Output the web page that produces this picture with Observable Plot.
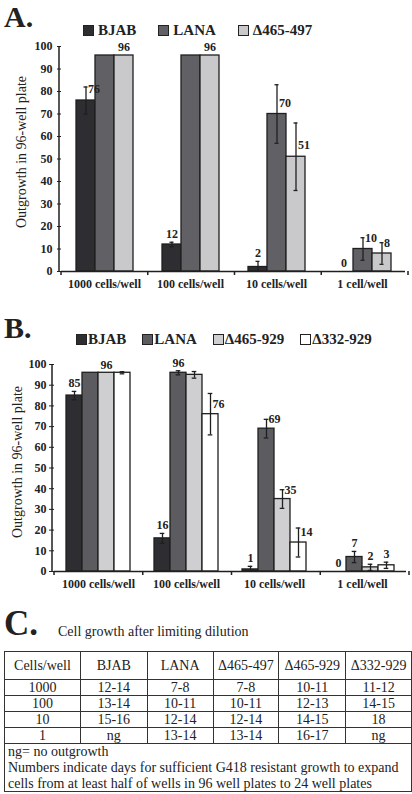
<!DOCTYPE html>
<html>
<head>
<meta charset="utf-8">
<script src="https://cdn.jsdelivr.net/npm/d3@7"></script>
<script src="https://cdn.jsdelivr.net/npm/@observablehq/plot@0.6"></script>
<style>
  body { margin: 0; background: #fff; }
  #page { position: relative; width: 412px; height: 794px; overflow: hidden;
          font-family: "Liberation Serif", Tinos, "Times New Roman", "DejaVu Serif", serif; color: #222; }
  .letter { position: absolute; left: 4px; font-weight: bold; line-height: 1.1; }
  .legend { position: absolute; display: flex; align-items: center; font-weight: bold;
            font-size: 15px; line-height: 1; white-space: nowrap; }
  .legend .item { display: flex; align-items: center; }
  .legend .sw { width: 9px; height: 9px; border: 1px solid #222; }
  .ytitle { position: absolute; transform: translate(-50%, -50%) rotate(-90deg);
            white-space: nowrap; font-size: 14px; line-height: 1; }
  .chart { position: absolute; left: 0; }
  .subtitle { position: absolute; left: 58px; font-size: 14px; line-height: 1; }
  table.growth { position: absolute; left: 4px; top: 651px; border-collapse: collapse;
                 font-size: 14px; table-layout: fixed; font-family: inherit; }
  table.growth td { border: 1px solid #333; text-align: center; padding: 0; line-height: 1; }
  table.growth tr.head td { height: 27px; }
  table.growth tr.body td { height: 15px; }
  .notes { position: absolute; left: 4px; top: 743px; width: 408px; height: 49px;
           border: 1px solid #333; border-top: none; font-size: 14px; line-height: 16px;
           padding: 1px 0 0 3px; box-sizing: border-box; }
</style>
</head>
<body>
<div id="page"></div>
<script>
// ---- shared categories ----
const groups = ["1000 cells/well", "100 cells/well", "10 cells/well", "1 cell/well"];

// ---- panel A: outgrowth (% of wells), mean and error ----
const seriesA = ["BJAB", "LANA", "Δ465-497"];
const colorsA = ["#2d2d32", "#616165", "#c9c9cb"];
const bjabA = [76, 12, 2, 0];
const bjabErrA = [6, 1, 2.5, 0];
const lanaA = [96, 96, 70, 10];
const lanaErrA = [0, 0, 13, 5];
const d465_497A = [96, 96, 51, 8];
const d465_497ErrA = [0, 0, 15, 4.8];
// which bars carry a value label
const bjabShownA = [true, true, true, true];
const lanaShownA = [false, false, true, true];
const d465_497ShownA = [true, true, true, true];

// ---- panel B ----
const seriesB = ["BJAB", "LANA", "Δ465-929", "Δ332-929"];
const colorsB = ["#2d2d32", "#5c5c60", "#cfcfd1", "#ffffff"];
const bjabB = [85, 16, 1, 0];
const bjabErrB = [2, 2.4, 1.5, 0];
const lanaB = [96, 96, 69, 7];
const lanaErrB = [0, 1, 4.5, 2.7];
const d465_929B = [96, 95, 35, 2];
const d465_929ErrB = [0, 1.6, 4.5, 1.5];
const d332_929B = [96, 76, 14, 3];
const d332_929ErrB = [0.5, 10, 7, 1.5];
const bjabShownB = [true, true, true, true];
const lanaShownB = [false, true, true, true];
const d465_929ShownB = [true, false, true, true];
const d332_929ShownB = [false, true, true, true];

// ---- panel C: days to expansion ----
const tableHeader = ["Cells/well", "BJAB", "LANA", "Δ465-497", "Δ465-929", "Δ332-929"];
const tableBody = [
  ["1000", "12-14", "7-8", "7-8", "10-11", "11-12"],
  ["100", "13-14", "10-11", "10-11", "12-13", "14-15"],
  ["10", "15-16", "12-14", "12-14", "14-15", "18"],
  ["1", "ng", "13-14", "13-14", "16-17", "ng"]
];
const tableNotes = [
  "ng= no outgrowth",
  "Numbers indicate days for sufficient G418 resistant growth to expand",
  "cells from at least half of wells in 96 well plates to 24 well plates"
];

const serif = "'Liberation Serif', Tinos, 'Times New Roman', 'DejaVu Serif', serif";
const page = document.getElementById("page");

function tidy(series, values, errs, shown) {
  const rows = [];
  series.forEach((s, i) => {
    groups.forEach((g, j) => {
      rows.push({group: g, series: s, value: values[i][j], err: errs[i][j], shown: shown[i][j]});
    });
  });
  return rows;
}

function addDiv(cls, text, css) {
  const el = document.createElement("div");
  el.className = cls;
  if (text != null) el.textContent = text;
  Object.assign(el.style, css);
  page.appendChild(el);
  return el;
}

function legend(series, colors, css, itemGap, swatchGap) {
  const box = addDiv("legend", null, css);
  box.style.gap = itemGap + "px";
  series.forEach((s, i) => {
    const item = document.createElement("div");
    item.className = "item";
    item.style.gap = swatchGap + "px";
    const sw = document.createElement("div");
    sw.className = "sw";
    sw.style.background = colors[i];
    const t = document.createElement("span");
    t.textContent = s;
    item.append(sw, t);
    box.appendChild(item);
  });
}

function barChart({rows, series, colors, top, height, marginLeft, marginRight, paddingOuter, tickSize, tickPadding, capWidth}) {
  const ink = "#1f1f1f";
  const chart = Plot.plot({
    width: 412,
    height,
    marginTop: 10,
    marginBottom: 25,
    marginLeft,
    marginRight,
    facet: {data: rows, x: "group"},
    fx: {domain: groups, padding: 0, label: null, tickSize: 0, tickPadding: 8, axis: "bottom"},
    x: {domain: series, axis: null, paddingInner: 0, paddingOuter},
    y: {domain: [0, 100], ticks: 10, tickSize, tickPadding, label: null},
    color: {domain: series, range: colors},
    style: {fontFamily: serif, fontSize: "12px",
            fontWeight: "bold", color: "#222", background: "transparent", overflow: "visible"},
    marks: [
      Plot.barY(rows, {x: "series", y: "value", fill: "series", stroke: ink, strokeWidth: 1.3}),
      Plot.ruleX(rows, {filter: d => d.err > 0, x: "series",
                        y1: d => Math.max(0, d.value - d.err), y2: d => d.value + d.err,
                        stroke: ink, strokeWidth: 1.3}),
      Plot.tickY(rows, {filter: d => d.err > 0, x: "series", y: d => d.value + d.err,
                        stroke: ink, strokeWidth: 1.3, inset: capWidth}),
      Plot.tickY(rows, {filter: d => d.err > 0 && d.value - d.err > 0, x: "series",
                        y: d => d.value - d.err, stroke: ink, strokeWidth: 1.3, inset: capWidth}),
      Plot.ruleY([0], {stroke: ink, strokeWidth: 1.5}),
      // short error bars: value sits centred above the whisker
      Plot.text(rows, {filter: d => d.shown && d.err < 4, x: "series", y: d => d.value + d.err,
                       text: d => String(d.value), dy: -8, fill: "#222", fontSize: 12, fontWeight: "bold"}),
      // long error bars: value sits beside the whisker
      Plot.text(rows, {filter: d => d.shown && d.err >= 4, x: "series", y: d => d.value + Math.min(d.err, 5),
                       text: d => String(d.value), dx: 2, textAnchor: "start", fill: "#222",
                       fontSize: 12, fontWeight: "bold"})
    ]
  });

  // axis line along y and group-boundary ticks on the baseline
  const svg = d3.select(chart.tagName.toLowerCase() === "svg" ? chart : chart.querySelector("svg"));
  const y = chart.scale("y");
  const fx = chart.scale("fx");
  const yPos = v => y.apply ? y.apply(v) : y.range[0] + (y.range[1] - y.range[0]) * v / 100;
  const [r0, r1] = fx.range;
  const step = (r1 - r0) / groups.length;
  const x0 = fx.apply ? fx.apply(groups[0]) : r0;
  svg.append("line").attr("x1", marginLeft).attr("x2", marginLeft)
    .attr("y1", yPos(0)).attr("y2", yPos(100)).attr("stroke", ink).attr("stroke-width", 1.5);
  for (let i = 0; i <= groups.length; i++) {
    const xx = x0 + i * step;
    svg.append("line").attr("x1", xx).attr("x2", xx)
      .attr("y1", yPos(0)).attr("y2", yPos(0) + 4).attr("stroke", ink).attr("stroke-width", 1.5);
  }
  svg.selectAll("text").attr("fill", "#222").style("font-family", serif);

  const holder = addDiv("chart", null, {top: top + "px"});
  holder.appendChild(chart);
}

// ---- panel A ----
addDiv("letter", "A.", {top: "0px", fontSize: "30px"});
legend(seriesA, colorsA, {left: "83px", top: "23px"}, 22, 4);
addDiv("ytitle", "Outgrowth in 96-well plate", {left: "22px", top: "152px"});
barChart({
  rows: tidy(seriesA, [bjabA, lanaA, d465_497A], [bjabErrA, lanaErrA, d465_497ErrA],
             [bjabShownA, lanaShownA, d465_497ShownA]),
  series: seriesA, colors: colorsA, top: 36, height: 260, marginLeft: 59, marginRight: 6,
  paddingOuter: 0.675, tickSize: 4, tickPadding: 5, capWidth: 7.5
});

// ---- panel B ----
addDiv("letter", "B.", {top: "311px", fontSize: "30px"});
legend(seriesB, colorsB, {left: "76px", top: "332px"}, 16, 1);
addDiv("ytitle", "Outgrowth in 96-well plate", {left: "18px", top: "462px"});
barChart({
  rows: tidy(seriesB, [bjabB, lanaB, d465_929B, d332_929B], [bjabErrB, lanaErrB, d465_929ErrB, d332_929ErrB],
             [bjabShownB, lanaShownB, d465_929ShownB, d332_929ShownB]),
  series: seriesB, colors: colorsB, top: 354, height: 242, marginLeft: 52, marginRight: 5,
  paddingOuter: 0.705, tickSize: 5, tickPadding: 3, capWidth: 5.7
});

// ---- panel C ----
addDiv("letter", "C.", {top: "605px", fontSize: "35px"});
addDiv("subtitle", "Cell growth after limiting dilution", {top: "625px"});
const colWidths = [76, 67, 66, 66, 67, 66];
const table = document.createElement("table");
table.className = "growth";
const cg = document.createElement("colgroup");
colWidths.forEach(w => { const c = document.createElement("col"); c.style.width = w + "px"; cg.appendChild(c); });
table.appendChild(cg);
const addRow = (cells, cls) => {
  const tr = document.createElement("tr");
  tr.className = cls;
  cells.forEach(c => { const td = document.createElement("td"); td.textContent = c; tr.appendChild(td); });
  table.appendChild(tr);
};
addRow(tableHeader, "head");
tableBody.forEach(r => addRow(r, "body"));
page.appendChild(table);
const notes = addDiv("notes", null, {});
tableNotes.forEach(n => { const p = document.createElement("div"); p.textContent = n; notes.appendChild(p); });
</script>
</body>
</html>
